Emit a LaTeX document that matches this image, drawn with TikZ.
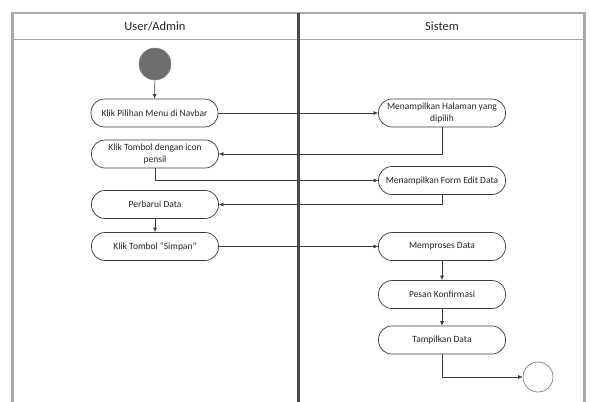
\documentclass[tikz,border=0pt]{standalone}
\usepackage{fontspec}
\setmainfont{Carlito}
\usetikzlibrary{arrows.meta}
\definecolor{frameGray}{HTML}{A8A8A8}
\definecolor{laneDark}{HTML}{4A4A4A}
\definecolor{edgeGray}{HTML}{3C3C3C}
\definecolor{startFill}{HTML}{6E6E6E}
\tikzset{
  actbox/.style={draw=edgeGray, line width=0.7pt, rounded corners=13.5pt,
    minimum width=127pt, minimum height=28pt, inner sep=1pt, align=center,
    font=\fontsize{9.5}{12}\selectfont, text=black!85},
  flow/.style={draw=edgeGray, line width=0.6pt,
    -{Latex[length=4.5pt,width=4pt]}},
  lanehead/.style={font=\fontsize{12.5}{15}\selectfont, text=black!85},
}
\begin{document}
\begin{tikzpicture}[x=1pt,y=-1pt]
\useasboundingbox (0,0) rectangle (590,402);
\fill[white] (0,0) rectangle (590,402);
\begin{scope}
\clip (0,0) rectangle (590,402);
% swimlane frame
\draw[frameGray, line width=2.5pt] (12.5,420) -- (12.5,13) -- (584.5,13) -- (584.5,420);
\draw[frameGray, line width=0.9pt] (12.5,39.5) -- (584.5,39.5);
\draw[laneDark, line width=3.6pt] (298.5,13) -- (298.5,420);
\end{scope}
\node[lanehead] (hUser) at (155,26) {User/Admin};
\node[lanehead] (hSys) at (442,26) {Sistem};

% initial and final states
\node[circle, fill=startFill, draw=gray, line width=0.5pt, minimum size=32pt, inner sep=0] (start) at (155,64) {};
\node[circle, draw=gray, line width=0.7pt, minimum size=30pt, inner sep=0, fill=white] (finish) at (538,377) {};

% activities
\node[actbox] (b1) at (154.5,113) {Klik Pilihan Menu di Navbar};
\node[actbox] (b2) at (442,113) {Menampilkan Halaman yang\\dipilih};
\node[actbox] (b3) at (155,154) {Klik Tombol dengan icon\\pensil};
\node[actbox] (b4) at (442,180.5) {Menampilkan Form Edit Data};
\node[actbox] (b5) at (155,204.5) {Perbarui Data};
\node[actbox] (b6) at (155,246.5) {Klik Tombol ``Simpan''};
\node[actbox] (b7) at (442,246.5) {Memproses Data};
\node[actbox] (b8) at (442,294.5) {Pesan Konfirmasi};
\node[actbox] (b9) at (442,340) {Tampilkan Data};

% control flow
\draw[flow] (start) -- (b1);
\draw[flow] (b1) -- (b2);
\draw[flow] (b2.south) |- (b3.east);
\draw[flow] (b3.south) |- (b4.west);
\draw[flow] (b4.south) |- (b5.east);
\draw[flow] (b5) -- (b6);
\draw[flow] (b6) -- (b7);
\draw[flow] (b7) -- (b8);
\draw[flow] (b8) -- (b9);
\draw[flow] (b9.south) |- (finish.west);
\end{tikzpicture}
\end{document}
